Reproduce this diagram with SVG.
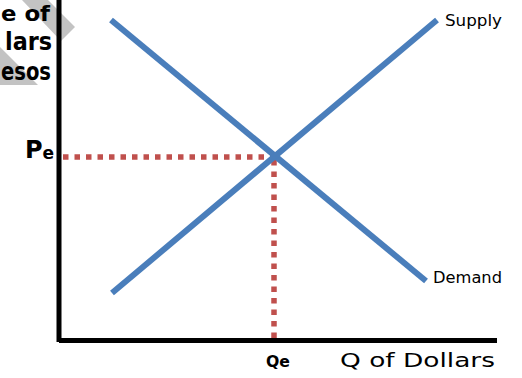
<svg xmlns="http://www.w3.org/2000/svg" width="522" height="378" viewBox="0 0 522 378">
<style>
.curve{stroke:#4A7EBB;stroke-width:6;fill:none;stroke-linecap:butt}
.guide{stroke:#C0504D;stroke-width:5.5;fill:none;stroke-dasharray:5.5 6}
.axis{fill:#000}
.t{font-family:"DejaVu Sans","Liberation Sans",sans-serif;fill:#000}
.b{font-weight:bold}
</style>
<rect width="522" height="378" fill="#fff"/>
<g id="watermark" fill="#C3C3C3">
<polygon points="22,0 48,0 75,27 61,41"/>
<polygon points="0,47 38,85 0,85"/>
</g>
<g id="y-label" class="t b" font-size="24">
<text x="1" y="21" font-size="22" textLength="49" lengthAdjust="spacingAndGlyphs">e of</text>
<text x="5" y="50" textLength="47" lengthAdjust="spacingAndGlyphs">lars</text>
<text x="1" y="80" textLength="50" lengthAdjust="spacingAndGlyphs">esos</text>
</g>
<g id="axes">
<rect class="axis" x="56.5" y="0" width="5" height="342"/>
<rect class="axis" x="59" y="338" width="438" height="5"/>
</g>
<g id="connectors">
<line class="guide" x1="63" y1="157" x2="274" y2="157"/>
<line class="guide" x1="274" y1="160" x2="274" y2="338"/>
</g>
<g id="demand">
<line class="curve" x1="111" y1="20" x2="426" y2="281"/>
<text class="t" x="433" y="283" font-size="16" textLength="69" lengthAdjust="spacingAndGlyphs">Demand</text>
</g>
<g id="supply">
<line class="curve" x1="112" y1="293" x2="437" y2="20"/>
<text class="t" x="445" y="26" font-size="16" textLength="57" lengthAdjust="spacingAndGlyphs">Supply</text>
</g>
<g id="pe">
<text class="t b" x="25" y="158" font-size="24">P<tspan font-size="17" dy="1">e</tspan></text>
</g>
<g id="qe">
<text class="t b" x="266" y="367" font-size="15" textLength="24" lengthAdjust="spacingAndGlyphs">Qe</text>
</g>
<g id="x-label">
<text class="t" x="340" y="367" font-size="20" textLength="155" lengthAdjust="spacingAndGlyphs">Q of Dollars</text>
</g>
</svg>
